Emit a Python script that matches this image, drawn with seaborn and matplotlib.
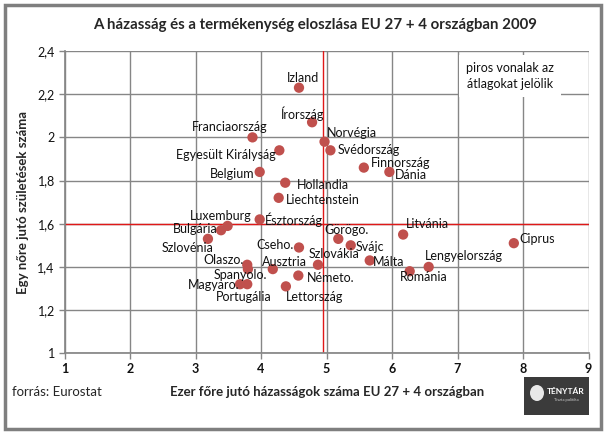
#!/usr/bin/env python3
"""
Marriage rate vs fertility, EU 27 + 4 countries, 2009 (scatter with mean lines).
"""
import matplotlib
matplotlib.use('Agg')
import matplotlib.pyplot as plt
from matplotlib.patches import Rectangle, Ellipse
from matplotlib.ticker import FuncFormatter
import pandas as pd
import seaborn as sns

sns.set_theme(style='white')
plt.rcParams['font.family'] = ['Lato', 'DejaVu Sans']

# data
countries = ['Izland', 'Írország', 'Franciaország', 'Norvégia', 'Svédország',
             'Egyesült Királyság', 'Belgium', 'Finnország', 'Dánia', 'Hollandia',
             'Liechtenstein', 'Luxemburg', 'Bulgária', 'Szlovénia', 'Észtország',
             'Cseho.', 'Olaszo.', 'Spanyolo.', 'Ausztria', 'Magyaro.',
             'Portugália', 'Németo.', 'Lettország', 'Szlovákia', 'Görögo.',
             'Svájc', 'Málta', 'Litvánia', 'Románia', 'Lengyelország', 'Ciprus']
marriages = [4.58, 4.78, 3.87, 4.97, 5.06,
             4.28, 3.98, 5.57, 5.96, 4.37,
             4.27, 3.49, 3.39, 3.19, 3.98,
             4.58, 3.79, 3.80, 4.18, 3.68,
             3.79, 4.57, 4.38, 4.87, 5.18,
             5.37, 5.66, 6.17, 6.27, 6.56, 7.86]
fertility = [2.23, 2.07, 2.00, 1.98, 1.94,
             1.94, 1.84, 1.86, 1.84, 1.79,
             1.72, 1.59, 1.57, 1.53, 1.62,
             1.49, 1.41, 1.39, 1.39, 1.32,
             1.32, 1.36, 1.31, 1.41, 1.53,
             1.50, 1.43, 1.55, 1.38, 1.40, 1.51]
mean_marriages = 4.95
mean_fertility = 1.60

df = pd.DataFrame({'country': countries, 'marriages': marriages, 'fertility': fertility})

# label placement: (dx, dy) in pixels from the dot, horizontal alignment
label_pos = {
    'Izland': (4, 10, 'center'), 'Írország': (-10, 9, 'center'),
    'Franciaország': (-23, 10, 'center'), 'Norvégia': (27, 9, 'center'),
    'Svédország': (7, 0, 'left'), 'Egyesült Királyság': (-4, -5, 'right'),
    'Belgium': (-5, -2, 'right'), 'Finnország': (7, 5, 'left'),
    'Dánia': (5, -3, 'left'), 'Hollandia': (12, -2, 'left'),
    'Liechtenstein': (7, -2, 'left'), 'Luxemburg': (24, 10, 'right'),
    'Bulgária': (-3, 1, 'right'), 'Szlovénia': (6, -9, 'right'),
    'Észtország': (5, 0, 'left'), 'Cseho.': (-5, 2, 'right'),
    'Olaszo.': (-3, 5, 'right'), 'Spanyolo.': (19, -6, 'right'),
    'Ausztria': (-11, 7, 'left'), 'Magyaro.': (-1, -1, 'right'),
    'Portugália': (24, -13, 'right'), 'Németo.': (9, -2, 'left'),
    'Lettország': (0, -11, 'left'), 'Szlovákia': (-9, 11, 'left'),
    'Görögo.': (-14, 9, 'left'), 'Svájc': (5, -2, 'left'),
    'Málta': (3, -2, 'left'), 'Litvánia': (3, 11, 'left'),
    'Románia': (-10, -6, 'left'), 'Lengyelország': (-4, 11, 'left'),
    'Ciprus': (6, 4, 'left'),
}

fig = plt.figure(figsize=(6.06, 4.34), dpi=100)
ax = fig.add_axes([64.5 / 606, 1 - 353.3 / 434, 524 / 606, 302.3 / 434])

grid_c = '#868686'
ax.set_xlim(1, 9)
ax.set_ylim(1, 2.4)
ax.set_xticks(range(1, 10))
ax.set_yticks([1, 1.2, 1.4, 1.6, 1.8, 2.0, 2.2, 2.4])
ax.grid(True, color=grid_c, linewidth=1)
for s in ax.spines.values():
    s.set_visible(False)
ax.spines['left'].set_visible(True)
ax.spines['bottom'].set_visible(True)
ax.spines['left'].set_color(grid_c)
ax.spines['bottom'].set_color(grid_c)
ax.tick_params(axis='both', which='both', direction='out', length=4, width=1,
               color=grid_c, left=True, bottom=True, labelsize=9, pad=3,
               labelcolor='#111111')
ax.yaxis.set_major_formatter(FuncFormatter(lambda v, p: f'{v:g}'.replace('.', ',')))
for t in ax.get_xticklabels():
    t.set_fontweight('bold')

ax.axvline(mean_marriages, color='#e01818', linewidth=1.0, zorder=2)
ax.axhline(mean_fertility, color='#e01818', linewidth=1.0, zorder=2)

sns.scatterplot(data=df, x='marriages', y='fertility', ax=ax, color='#c0504d',
                s=55, edgecolor='none', zorder=3, legend=False)

for _, row in df.iterrows():
    dx, dy, ha = label_pos[row['country']]
    ax.annotate(row['country'], (row['marriages'], row['fertility']),
                xytext=(dx, dy), textcoords='offset pixels', ha=ha, va='center',
                fontsize=9, color='#111111', zorder=4)

ax.set_xlabel('')
ax.set_ylabel('')

# note box
fig.text(510 / 606, 1 - 76 / 434, 'piros vonalak az\nátlagokat jelölik', ha='center',
         va='center', fontsize=9, color='#111111', linespacing=1.45,
         bbox=dict(facecolor='white', edgecolor='none', pad=5))

fig.text(315 / 606, 1 - 25 / 434, 'A házasság és a termékenység eloszlása EU 27 + 4 országban 2009',
         ha='center', va='center', fontsize=10.8, fontweight='bold')
fig.text(23 / 606, 1 - 202 / 434, 'Egy nőre jutó születések száma', rotation=90,
         ha='center', va='center', fontsize=9.5, fontweight='bold')
fig.text(327 / 606, 1 - 392 / 434, 'Ezer főre jutó házasságok száma EU 27 + 4 országban',
         ha='center', va='center', fontsize=9.5, fontweight='bold')
fig.text(12 / 606, 1 - 392 / 434, 'forrás: Eurostat', ha='left', va='center', fontsize=9.5)

# logo
fig.patches.append(Rectangle((524 / 606, 1 - 415 / 434), 65 / 606, 38 / 434,
                             transform=fig.transFigure, facecolor='#3b3b3b',
                             edgecolor='none'))
fig.patches.append(Ellipse((537 / 606, 1 - 393 / 434), 14 / 606, 16 / 434,
                           transform=fig.transFigure, facecolor='#e8e8e8',
                           edgecolor='none'))
fig.text(566 / 606, 1 - 391 / 434, 'TÉNYTÁR', ha='center', va='center', fontsize=6,
         fontweight='bold', color='white')
fig.text(566 / 606, 1 - 400 / 434, 'Tiszta politika', ha='center', va='center',
         fontsize=3, color='#cccccc')

# outer frame
fig.patches.append(Rectangle((5 / 606, 5 / 434), 596 / 606, 424 / 434,
                             transform=fig.transFigure, facecolor='none',
                             edgecolor='#7f7f7f', linewidth=2.5))

fig.savefig('out.png', dpi=100)
